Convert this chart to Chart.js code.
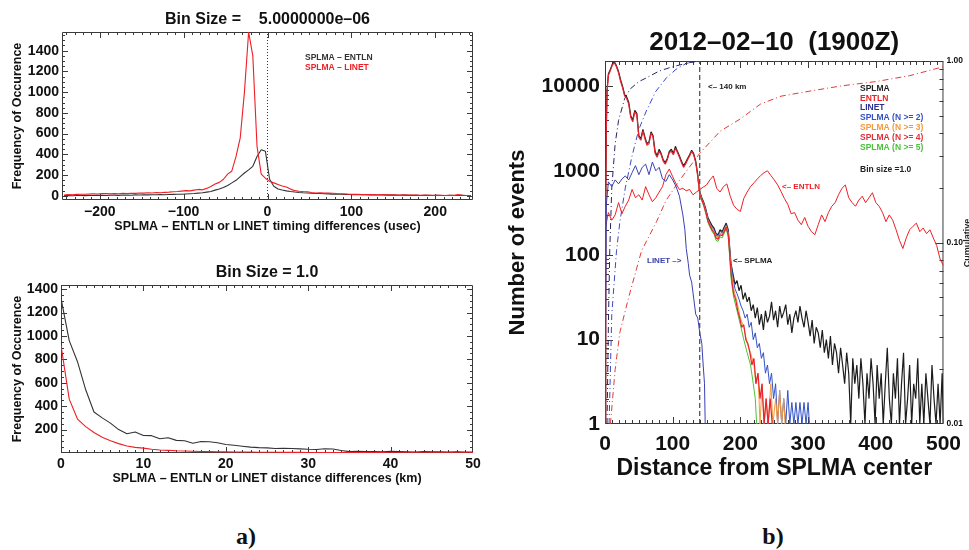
<!DOCTYPE html>
<html>
<head>
<meta charset="utf-8">
<script src="https://cdn.jsdelivr.net/npm/chart.js@4.4.1/dist/chart.umd.min.js"></script>
<style>
  body { margin: 0; background: #fff; }
  #page { position: relative; width: 969px; height: 550px; overflow: hidden; }
  canvas { position: absolute; }
  .tag { position: absolute; top: 524px; width: 60px; text-align: center;
         font: bold 24px/24px "Liberation Serif", "Times New Roman", serif; color: #111; }
</style>
</head>
<body>
<div id="page">
  <canvas id="timeChart" width="490" height="240" style="left:0;top:0"></canvas>
  <canvas id="distChart" width="490" height="260" style="left:0;top:240px"></canvas>
  <canvas id="rangeChart" width="469" height="495" style="left:500px;top:0"></canvas>
  <div class="tag" style="left:216px">a)</div>
  <div class="tag" style="left:743px">b)</div>
</div>
<script>
// ---- a) top: SPLMA - ENTLN / LINET timing differences, 5 usec bins
var timeBins = [-242.5,-237.5,-232.5,-227.5,-222.5,-217.5,-212.5,-207.5,-202.5,-197.5,
  -192.5,-187.5,-182.5,-177.5,-172.5,-167.5,-162.5,-157.5,-152.5,-147.5,
  -142.5,-137.5,-132.5,-127.5,-122.5,-117.5,-112.5,-107.5,-102.5,-97.5,
  -92.5,-87.5,-82.5,-77.5,-72.5,-67.5,-62.5,-57.5,-52.5,-47.5,
  -42.5,-37.5,-32.5,-27.5,-22.5,-17.5,-12.5,-7.5,-2.5,2.5,
  7.5,12.5,17.5,22.5,27.5,32.5,37.5,42.5,47.5,52.5,
  57.5,62.5,67.5,72.5,77.5,82.5,87.5,92.5,97.5,102.5,
  107.5,112.5,117.5,122.5,127.5,132.5,137.5,142.5,147.5,152.5,
  157.5,162.5,167.5,172.5,177.5,182.5,187.5,192.5,197.5,202.5,
  207.5,212.5,217.5,222.5,227.5,232.5,237.5,242.5];
var timeLinet = [8,12,10,14,16,15,18,20,18,22,
  21,19,22,20,24,22,25,24,27,26,
  30,28,32,30,34,36,40,42,46,50,
  48,55,62,58,72,90,115,130,160,210,
  240,380,560,1000,1580,1350,480,210,170,140,
  125,110,95,85,65,50,45,42,40,32,
  28,30,26,28,25,22,20,18,16,14,
  15,12,13,12,10,11,12,10,11,9,
  8,9,8,7,8,6,7,6,5,6,
  5,4,6,5,12,6,4,3];
var timeEntln = [2,3,1,4,3,2,5,4,6,5,
  4,6,7,5,8,7,6,9,8,10,
  9,11,10,12,11,13,14,15,16,18,
  20,22,26,30,36,42,55,66,80,100,
  125,150,185,220,250,285,380,445,430,160,
  92,66,56,48,42,37,33,30,28,25,
  23,22,20,19,17,16,15,14,13,12,
  11,12,10,9,10,8,9,7,8,7,
  6,7,5,6,5,4,6,5,4,5,
  3,4,5,3,4,6,3,2];
var timeTicks = [-200, -100, 0, 100, 200];
var timeCountTicks = [0, 200, 400, 600, 800, 1000, 1200, 1400];
var timeYMin = -40, timeYMax = 1580;

// ---- a) bottom: distance differences, 1 km bins
var distBins = [0,1,2,3,4,5,6,7,8,9,10,11,12,13,14,15,16,17,18,19,20,21,22,23,24,25,
  26,27,28,29,30,31,32,33,34,35,36,37,38,39,40,41,42,43,44,45,46,47,48,49,50];
var distEntln = [1320,960,780,540,350,300,255,200,165,180,150,148,122,130,108,104,84,98,96,88,
  72,66,58,50,46,44,38,40,38,35,32,30,36,34,22,12,14,12,13,11,14,12,10,8,12,10,11,9,10,8,9];
var distLinet = [920,460,290,225,175,135,105,80,60,48,42,32,25,22,19,17,15,13,12,11,
  10,9,8,8,7,6,6,5,5,5,4,4,4,4,3,3,3,3,3,3,2,2,2,2,2,2,2,2,2,2,2];
var distTicks = [0, 10, 20, 30, 40, 50];
var distCountTicks = [200, 400, 600, 800, 1000, 1200, 1400];

// ---- b) events vs distance from SPLMA center, 1 km bins
var splmaKm = [0,1,2,3,5,8,11,14,17,20,23,26,29,32,35,38,41,44,47,50,53,56,59,62,65,68,71,74,77,80,
  83,86,89,92,95,98,101,104,107,110,113,116,119,122,125,128,131,134,137,140,143,146,149,152,155,
  158,161,164,167,170,173,176,179,182,184,
  186,189,192,195,198,201,204,207,210,213,216,219,222,225,228,231,234,237,240,243,246,249,252,255,
  258,261,264,267,270,273,276,279,282,285,288,291,294,297,300,303,306,309,312,315,318,321,324,327,
  330,333,336,339,342,345,348,351,354,357,360,363,366,369,372,375,378,381,384,387,390,393,396,399,
  402,405,408,411,414,417,420,423,426,429,432,435,438,441,444,447,450,453,456,459,462,465,468,471,
  474,477,480,483,486,489,492,495,498,500];
var splmaCounts = [1,400,3500,9000,14000,16000,18500,19500,17500,15000,12000,10000,8000,7500,6500,
  4500,4000,5200,4800,2600,2400,3100,2500,2100,2200,2900,2600,1700,1500,1800,1600,1350,1250,1400,
  1700,1800,1600,1950,1700,1500,1300,1150,1250,1400,1550,1750,1600,1300,900,560,480,420,350,280,
  250,225,210,180,175,200,190,215,240,200,130,
  80,60,45,50,38,44,30,36,28,32,22,26,18,24,15,20,13,22,16,19,28,17,22,14,25,18,21,26,15,20,
  12,18,22,16,25,18,14,22,16,11,17,9,14,12,8,13,7,10,6,11,5,9,7,4,8,5,3,7,4,1,
  6,3,5,2,6,3,1,4,2,6,3,1,5,2,4,1,3,8,2,1,4,2,6,1,3,7,1,2,5,1,
  3,2,6,1,3,1,4,2,1,5,2,1,3,1,4,1];

var n4Km = [0,1,2,3,5,8,11,14,17,20,23,26,29,32,35,38,41,44,47,50,53,56,59,62,65,68,71,74,77,80,
  83,86,89,92,95,98,101,104,107,110,113,116,119,122,125,128,131,134,137,140,143,146,149,152,155,
  158,161,164,167,170,173,176,179,182,184,
  186,188,190,193,196,199,202,205,208,211,214,217,220,223,226,229,232,235,238,241,244,247,250];
var n4Counts = [1,350,3200,8500,13500,15500,18000,19000,17000,14500,11500,9600,7700,7200,6200,
  4300,3800,5000,4600,2500,2300,3000,2400,2000,2100,2800,2500,1600,1450,1700,1550,1300,1200,1350,
  1650,1700,1550,1850,1650,1450,1250,1100,1200,1350,1500,1700,1550,1250,860,530,450,390,320,255,
  225,200,185,160,155,175,170,190,215,175,110,
  65,45,35,30,22,18,14,15,10,9,7,5,6,3,4,2,3,1,2,1,2,1,1];

var n2Km = [137,140,143,146,149,152,155,158,161,164,167,170,173,176,179,182,184,
  186,189,192,195,198,201,204,207,210,213,216,219,222,225,228,231,234,237,240,243,246,249,252,255,
  258,261,264,267,270,273,276,279,282,285,288,291,294,297,300,302];
var n2Counts = [880,550,470,410,340,270,240,215,200,172,168,192,182,205,230,190,120,
  80,55,40,35,30,25,22,18,20,14,16,10,12,8,9,6,7,4,5,3,4,2,3,1,
  2.5,1,2,1,2.5,1,1.8,1,1.8,1,1.8,1,1.8,1,1.8,1];

var n3Km = [137,140,143,146,149,152,155,158,161,164,167,170,173,176,179,182,184,
  186,190,195,200,205,210,215,220,223,226,229,232,235,238,241,245,248,252,255,258,261,264,266];
var n3Counts = [870,540,460,400,330,262,232,208,192,166,160,182,176,198,222,182,115,
  70,40,28,18,14,9,7,5,3,4,1,3,1,2,1,3,1,2,1,2.5,1,2,1];

var n5Km = [137,140,143,146,149,152,155,158,161,164,167,170,173,176,179,182,184,
  186,190,195,200,205,210,215,219,222,224,226];
var n5Counts = [840,510,440,380,310,245,215,192,178,150,146,165,160,180,205,165,100,
  55,32,22,15,10,7,5,3,2,1,1];

var entlnKm = [0,5,10,15,20,25,30,35,40,45,50,55,60,65,70,75,80,85,90,95,100,105,110,115,120,125,
  130,135,140,145,150,155,160,165,170,175,180,185,190,195,200,205,210,215,220,225,230,235,240,245,
  250,255,260,265,270,275,280,285,290,295,300,305,310,315,320,325,330,335,340,345,350,355,360,365,
  370,375,380,385,390,395,400,405,410,415,420,425,430,435,440,445,450,455,460,465,470,475,480,485,
  490,495,500];
var entlnCounts = [200,320,260,300,420,310,380,450,600,480,520,450,650,520,430,480,560,650,900,1050,
  850,700,600,620,580,600,520,560,600,640,680,780,870,620,560,650,700,500,390,350,
  330,470,560,650,720,800,880,950,1000,880,780,680,570,470,400,310,320,260,230,280,
  220,190,175,230,300,250,320,380,420,520,620,680,480,420,380,450,500,420,480,550,
  420,380,320,250,300,260,200,150,120,160,200,220,240,190,210,180,200,160,130,90,75];

var linetKm = [0,2,5,10,15,20,25,30,35,40,45,50,55,60,65,70,75,80,85,90,95,100,105,110,115,
  118,120,123,125,128,131,134,137,140,143,145,147,148];
var linetCounts = [1,400,740,650,780,700,800,870,780,950,1150,900,1100,1200,900,1270,1000,1100,800,
  750,900,780,650,500,300,200,120,80,58,48,31,20,18,12,9,5,3,1];

// cumulative fractions (right axis)
var splmaCumKm = [3,5,7,10,15,20,29,37,50,59,80,96,110,125,140,500];
var splmaCum = [0.01,0.035,0.09,0.2,0.35,0.47,0.62,0.7,0.77,0.8,0.88,0.92,0.95,0.98,1,1];
var linetCumKm = [6,10,17,22,30,40,50,61,75,91,105,120,140,500];
var linetCum = [0.01,0.04,0.09,0.13,0.2,0.3,0.42,0.53,0.68,0.81,0.9,0.97,1,1];
var entlnCumKm = [8,15,22,35,54,76,90,110,140,170,200,230,260,300,350,400,450,500];
var entlnCum = [0.01,0.02,0.032,0.05,0.09,0.13,0.17,0.22,0.31,0.41,0.48,0.58,0.64,0.68,0.73,0.77,0.83,0.93];

var rangeTicks = [0, 100, 200, 300, 400, 500];
var eventTicks = [1, 10, 100, 1000, 10000];
var cumTicks = [0.01, 0.1, 1];
var cutoffKm = 140;
var eventMin = 1, eventMax = 20000;

var INK = '#111', BLACK = '#1c1c1c', RED = '#ee1f26', NAVY = '#2c2d92', LBLUE = '#3a40b2',
    BLUE = '#3452c6', ORANGE = '#f29a3f', GREEN = '#4cc13c', SANS = "'Liberation Sans', Arial, sans-serif";

Chart.defaults.font.family = SANS;
Chart.defaults.color = INK;

function pts(xs, ys) {
  return xs.map(function (x, i) { return { x: x, y: ys[i] }; });
}
function line(label, data, color, extra) {
  var d = { label: label, data: data, borderColor: color, borderWidth: 1, pointRadius: 0,
            fill: false, tension: 0, borderJoinStyle: 'bevel' };
  return Object.assign(d, extra || {});
}
function steps(a, b, s) {
  var out = [];
  for (var v = a; v <= b + 1e-9; v += s) out.push(+v.toFixed(4));
  return out;
}
function logMinors(e0, e1) {
  var out = [];
  for (var e = e0; e < e1; e++) for (var m = 2; m <= 9; m++) out.push(m * Math.pow(10, e));
  return out;
}
function fixTicks(list) {
  return function (s) { s.ticks = list.map(function (v) { return { value: v }; }); };
}
function plain(v) { return String(v).replace('-', '\u2212'); }
function bold(px) { return { size: px, weight: 'bold' }; }

// IDL style box with inward ticks, positions from the chart scales
function idlFrame(sets) {
  return {
    id: 'idlFrame',
    beforeDatasetsDraw: function (chart) {
      var a = chart.chartArea, ctx = chart.ctx;
      ctx.save();
      ctx.strokeStyle = '#3a3a3a';
      ctx.lineWidth = 1;
      ctx.beginPath();
      ctx.rect(a.left + 0.5, a.top + 0.5, a.right - a.left - 1, a.bottom - a.top - 1);
      sets.forEach(function (t) {
        var s = chart.scales[t.scale];
        t.values.forEach(function (v) {
          var p = Math.round(s.getPixelForValue(v)) + 0.5;
          t.sides.forEach(function (side) {
            if (side === 'bottom' || side === 'top') {
              if (p < a.left || p > a.right) return;
              var y0 = side === 'bottom' ? a.bottom : a.top;
              ctx.moveTo(p, y0);
              ctx.lineTo(p, y0 + (side === 'bottom' ? -t.len : t.len));
            } else {
              if (p < a.top || p > a.bottom) return;
              var x0 = side === 'left' ? a.left : a.right;
              ctx.moveTo(x0, p);
              ctx.lineTo(x0 + (side === 'left' ? t.len : -t.len), p);
            }
          });
        });
      });
      ctx.stroke();
      ctx.restore();
    }
  };
}

// titles, in-plot legends and notes, placed relative to the chart area
function idlText(items) {
  return {
    id: 'idlText',
    afterDraw: function (chart) {
      var a = chart.chartArea, ctx = chart.ctx;
      items.forEach(function (it) {
        ctx.save();
        ctx.font = it.font;
        ctx.fillStyle = it.color || INK;
        ctx.textAlign = it.align || 'left';
        ctx.textBaseline = 'middle';
        var x = it.dx === 'mid' ? (a.left + a.right) / 2 : a.left + it.dx;
        ctx.translate(x, a.top + it.dy);
        if (it.rotate) ctx.rotate(it.rotate);
        ctx.fillText(it.text, 0, 0);
        ctx.restore();
      });
    }
  };
}

var quiet = { legend: { display: false }, tooltip: { enabled: false } };
var noGrid = { display: false, drawTicks: false };
var noBorder = { display: false };

// ---------- a) top
new Chart(document.getElementById('timeChart'), {
  type: 'line',
  data: {
    datasets: [
      line('SPLMA \u2013 LINET', pts(timeBins, timeLinet), RED, { order: 0, borderWidth: 1.1 }),
      line('SPLMA \u2013 ENTLN', pts(timeBins, timeEntln), '#333', { order: 1, borderWidth: 1.1 }),
      line('zero', pts([0, 0], [timeYMin, timeYMax]), '#333', { order: 2, borderDash: [1, 2] })
    ]
  },
  options: {
    responsive: false, animation: false, events: [],
    layout: { padding: { left: 0, top: 32, right: 17, bottom: 0 } },
    plugins: quiet,
    scales: {
      x: {
        type: 'linear', min: -245, max: 245, grid: noGrid, border: noBorder,
        afterFit: function (s) { s.height = 40; },
        afterBuildTicks: fixTicks(timeTicks),
        ticks: { padding: 4, maxRotation: 0, autoSkip: false, font: bold(14), callback: plain },
        title: { display: true, text: 'SPLMA \u2013 ENTLN or LINET timing differences (usec)',
                 font: bold(12.5), padding: { top: 0, bottom: 5.5 } }
      },
      y: {
        type: 'linear', min: timeYMin, max: timeYMax, grid: noGrid, border: noBorder,
        afterFit: function (s) { s.width = 62; },
        afterBuildTicks: fixTicks(timeCountTicks),
        ticks: { padding: 3, autoSkip: false, font: bold(14), callback: plain },
        title: { display: true, text: 'Frequency of Occurence', font: bold(12.5),
                 padding: { top: 10, bottom: 0 } }
      }
    }
  },
  plugins: [
    idlFrame([
      { scale: 'x', values: timeTicks, len: 6, sides: ['bottom', 'top'] },
      { scale: 'x', values: steps(-240, 240, 10), len: 3, sides: ['bottom', 'top'] },
      { scale: 'y', values: timeCountTicks, len: 6, sides: ['left', 'right'] },
      { scale: 'y', values: steps(0, 1550, 50), len: 3, sides: ['left', 'right'] }
    ]),
    idlText([
      { text: 'Bin Size =    5.0000000e\u201306', font: 'bold 16px ' + SANS, dx: 'mid', dy: -12, align: 'center' },
      { text: 'SPLMA \u2013 ENTLN', font: 'bold 8.5px ' + SANS, dx: 243, dy: 25.7, color: '#333' },
      { text: 'SPLMA \u2013 LINET', font: 'bold 8.5px ' + SANS, dx: 243, dy: 35.7, color: RED }
    ])
  ]
});

// ---------- a) bottom
new Chart(document.getElementById('distChart'), {
  type: 'line',
  data: {
    datasets: [
      line('SPLMA \u2013 LINET', pts(distBins, distLinet), RED, { order: 0, borderWidth: 1.1 }),
      line('SPLMA \u2013 ENTLN', pts(distBins, distEntln), '#333', { order: 1, borderWidth: 1.1 })
    ]
  },
  options: {
    responsive: false, animation: false, events: [],
    layout: { padding: { left: 0, top: 45, right: 17, bottom: 0 } },
    plugins: quiet,
    scales: {
      x: {
        type: 'linear', min: 0, max: 50, grid: noGrid, border: noBorder,
        afterFit: function (s) { s.height = 47; },
        afterBuildTicks: fixTicks(distTicks),
        ticks: { padding: 3, maxRotation: 0, autoSkip: false, font: bold(14), callback: plain },
        title: { display: true, text: 'SPLMA \u2013 ENTLN or LINET distance differences (km)',
                 font: bold(12.5), padding: { top: 0, bottom: 14 } }
      },
      y: {
        type: 'linear', min: 0, max: 1435, grid: noGrid, border: noBorder,
        afterFit: function (s) { s.width = 61; },
        afterBuildTicks: fixTicks(distCountTicks),
        ticks: { padding: 3, autoSkip: false, font: bold(14), callback: plain },
        title: { display: true, text: 'Frequency of Occurence', font: bold(12.5),
                 padding: { top: 10, bottom: 0 } }
      }
    }
  },
  plugins: [
    idlFrame([
      { scale: 'x', values: distTicks, len: 6, sides: ['bottom', 'top'] },
      { scale: 'x', values: steps(1, 49, 1), len: 3, sides: ['bottom', 'top'] },
      { scale: 'y', values: distCountTicks, len: 6, sides: ['left', 'right'] },
      { scale: 'y', values: steps(50, 1400, 50), len: 3, sides: ['left', 'right'] }
    ]),
    idlText([
      { text: 'Bin Size = 1.0', font: 'bold 16px ' + SANS, dx: 'mid', dy: -12, align: 'center' }
    ])
  ]
});

// ---------- b)
var dashDot = [6, 3, 1, 3];
new Chart(document.getElementById('rangeChart'), {
  type: 'line',
  data: {
    datasets: [
      line('LINET', pts(linetKm, linetCounts), LBLUE, { order: 0 }),
      line('ENTLN', pts(entlnKm, entlnCounts), RED, { order: 1 }),
      line('SPLMA (N >= 4)', pts(n4Km, n4Counts), '#e8222e', { order: 2, borderWidth: 1.2 }),
      line('SPLMA (N >= 3)', pts(n3Km, n3Counts), ORANGE, { order: 3 }),
      line('SPLMA (N >= 5)', pts(n5Km, n5Counts), GREEN, { order: 4 }),
      line('SPLMA (N >= 2)', pts(n2Km, n2Counts), BLUE, { order: 5 }),
      line('SPLMA', pts(splmaKm, splmaCounts), BLACK, { order: 6, borderWidth: 1.2 }),
      line('SPLMA cumulative', pts(splmaCumKm, splmaCum), '#262660', { order: 7, yAxisID: 'y2', borderDash: dashDot }),
      line('LINET cumulative', pts(linetCumKm, linetCum), '#3a48c4', { order: 8, yAxisID: 'y2', borderDash: dashDot }),
      line('ENTLN cumulative', pts(entlnCumKm, entlnCum), '#e23a3a', { order: 9, yAxisID: 'y2', borderDash: dashDot }),
      line('140 km', pts([cutoffKm, cutoffKm], [eventMin, eventMax]), '#222', { order: 10, borderDash: [5, 3] })
    ]
  },
  options: {
    responsive: false, animation: false, events: [],
    layout: { padding: { left: 0, top: 61, right: 0, bottom: 0 } },
    plugins: quiet,
    scales: {
      x: {
        type: 'linear', min: 0, max: 500, grid: noGrid, border: noBorder,
        afterFit: function (s) { s.height = 71; },
        afterBuildTicks: fixTicks(rangeTicks),
        ticks: { padding: 8, maxRotation: 0, autoSkip: false, font: bold(21), callback: plain },
        title: { display: true, text: 'Distance from SPLMA center', font: bold(23),
                 padding: { top: 0, bottom: 13 } }
      },
      y: {
        type: 'logarithmic', position: 'left', min: eventMin, max: eventMax,
        grid: noGrid, border: noBorder,
        afterFit: function (s) { s.width = 105; },
        afterBuildTicks: fixTicks(eventTicks),
        ticks: { padding: 5, autoSkip: false, font: bold(21), callback: plain },
        title: { display: true, text: 'Number of events', font: bold(22), padding: { top: 5, bottom: 0 } }
      },
      y2: {
        type: 'logarithmic', position: 'right', min: 0.01, max: 1,
        grid: noGrid, border: noBorder,
        afterFit: function (s) { s.width = 24; },
        afterBuildTicks: fixTicks(cumTicks),
        ticks: { padding: 3, autoSkip: false, font: bold(8.5), callback: function (v) { return Number(v).toFixed(2); } }
      }
    }
  },
  plugins: [
    idlFrame([
      { scale: 'x', values: rangeTicks, len: 7, sides: ['bottom', 'top'] },
      { scale: 'x', values: steps(10, 490, 10), len: 4, sides: ['bottom', 'top'] },
      { scale: 'y', values: eventTicks, len: 8, sides: ['left'] },
      { scale: 'y', values: logMinors(0, 5), len: 4, sides: ['left'] },
      { scale: 'y2', values: cumTicks, len: 8, sides: ['right'] },
      { scale: 'y2', values: logMinors(-2, 0), len: 4, sides: ['right'] }
    ]),
    idlText([
      { text: '2012\u201302\u201310  (1900Z)', font: 'bold 26px ' + SANS, dx: 'mid', dy: -18.5, align: 'center' },
      { text: '<\u2013 140 km', font: 'bold 8px ' + SANS, dx: 103, dy: 25.7, color: '#222' },
      { text: 'SPLMA', font: 'bold 8.5px ' + SANS, dx: 255, dy: 27.3, color: '#222' },
      { text: 'ENTLN', font: 'bold 8.5px ' + SANS, dx: 255, dy: 37.2, color: RED },
      { text: 'LINET', font: 'bold 8.5px ' + SANS, dx: 255, dy: 47.1, color: NAVY },
      { text: 'SPLMA (N >= 2)', font: 'bold 8.5px ' + SANS, dx: 255, dy: 57, color: BLUE },
      { text: 'SPLMA (N >= 3)', font: 'bold 8.5px ' + SANS, dx: 255, dy: 66.9, color: ORANGE },
      { text: 'SPLMA (N >= 4)', font: 'bold 8.5px ' + SANS, dx: 255, dy: 76.8, color: '#e0303c' },
      { text: 'SPLMA (N >= 5)', font: 'bold 8.5px ' + SANS, dx: 255, dy: 86.7, color: GREEN },
      { text: 'Bin size =1.0', font: 'bold 8.5px ' + SANS, dx: 255, dy: 108.3, color: '#222' },
      { text: '<\u2013 ENTLN', font: 'bold 8px ' + SANS, dx: 177, dy: 125.7, color: RED },
      { text: 'LINET \u2013>', font: 'bold 8px ' + SANS, dx: 42, dy: 200, color: LBLUE },
      { text: '<\u2013 SPLMA', font: 'bold 8px ' + SANS, dx: 128, dy: 200, color: '#222' },
      { text: 'Cumulative', font: 'bold 9px ' + SANS, dx: 363, dy: 182, align: 'center', rotate: -Math.PI / 2, color: '#222' }
    ])
  ]
});
</script>
</body>
</html>
